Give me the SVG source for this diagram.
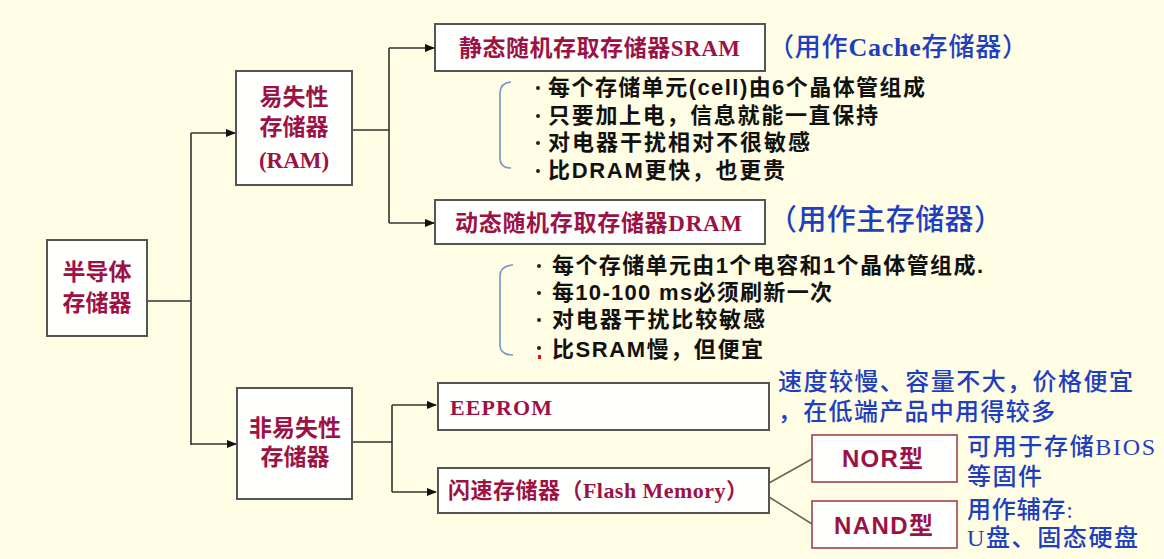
<svg xmlns="http://www.w3.org/2000/svg" width="1164" height="559" viewBox="0 0 1164 559">
<style>
.box{fill:#fffffe;stroke:#555;stroke-width:2}
.lbl{fill:#9c1245;font-family:"Liberation Serif","Noto Sans CJK SC",serif;font-weight:bold;dominant-baseline:central}
.lblc{text-anchor:middle}
.sans{font-family:"Liberation Sans","Noto Sans CJK SC",sans-serif}
.conn{fill:none;stroke:#333;stroke-width:1.6}
.thin{fill:none;stroke:#66664e;stroke-width:1.5}
.blue{fill:#1e3fbf;font-family:"Liberation Serif","Noto Sans CJK SC",serif;font-weight:500;dominant-baseline:central}
.bul{fill:#111;font-family:"Liberation Sans","Noto Sans CJK SC",sans-serif;font-weight:bold;font-size:22px;dominant-baseline:central}
.dot{fill:#222}
.brk{fill:none;stroke:#7892d2;stroke-width:1.6}
</style>
<defs>
<marker id="ah" markerWidth="10" markerHeight="8" refX="9" refY="4" orient="auto" markerUnits="userSpaceOnUse">
<path d="M0,0 L10,4 L0,8 Z" fill="#111"/>
</marker>
</defs>
<rect width="1164" height="559" fill="#fffde4"/>

<g id="connectors">
<path class="conn" d="M147,301 H191 M191,133 V445"/>
<path class="conn" d="M191,133 H235" marker-end="url(#ah)"/>
<path class="conn" d="M191,444 H236" marker-end="url(#ah)"/>
<path class="conn" d="M352,130 H389 M389,48 V223"/>
<path class="conn" d="M389,48 H434" marker-end="url(#ah)"/>
<path class="conn" d="M389,223 H434" marker-end="url(#ah)"/>
<path class="conn" d="M352,442 H392 M392,405 V492"/>
<path class="conn" d="M392,405 H436" marker-end="url(#ah)"/>
<path class="conn" d="M392,492 H436" marker-end="url(#ah)"/>
<path class="thin" d="M769,483 L812,459"/>
<path class="thin" d="M769,497 L812,524"/>
</g>

<g id="root">
<rect class="box" x="47" y="240" width="100" height="96"/>
<text class="lbl lblc" x="97" y="272" font-size="23">半导体</text>
<text class="lbl lblc" x="97" y="303" font-size="23">存储器</text>
</g>

<g id="ram">
<rect class="box" x="236" y="71" width="116" height="114"/>
<text class="lbl lblc" x="294" y="97" font-size="23">易失性</text>
<text class="lbl lblc" x="294" y="127" font-size="23">存储器</text>
<text class="lbl lblc" x="294" y="160" font-size="23">(RAM)</text>
</g>

<g id="rom">
<rect class="box" x="237" y="388" width="115" height="111"/>
<text class="lbl lblc" x="295" y="428" font-size="23">非易失性</text>
<text class="lbl lblc" x="295" y="457" font-size="23">存储器</text>
</g>

<g id="sram">
<rect class="box" x="435" y="24" width="330" height="47"/>
<text class="lbl" x="459" y="48" font-size="23" textLength="281">静态随机存取存储器SRAM</text>
<text class="blue" x="768" y="47" font-size="26" textLength="260">（用作<tspan font-weight="bold">Cache</tspan>存储器）</text>
<path class="brk" d="M511,82 Q500,83 500,93 L500,158 Q500,168 511,168"/>
<circle class="dot" cx="538" cy="88" r="2"/>
<text class="bul" x="548" y="87" textLength="377">每个存储单元(cell)由6个晶体管组成</text>
<circle class="dot" cx="538" cy="116" r="2"/>
<text class="bul" x="548" y="115" textLength="330">只要加上电，信息就能一直保持</text>
<circle class="dot" cx="538" cy="143" r="2"/>
<text class="bul" x="548" y="142" textLength="262">对电器干扰相对不很敏感</text>
<circle class="dot" cx="538" cy="171" r="2"/>
<text class="bul" x="548" y="170" textLength="237">比DRAM更快，也更贵</text>
</g>

<g id="dram">
<rect class="box" x="435" y="200" width="330" height="44"/>
<text class="lbl" x="455" y="223" font-size="23" textLength="287">动态随机存取存储器DRAM</text>
<text class="blue" x="768" y="220" font-size="29" textLength="235">（用作主存储器）</text>
<path class="brk" d="M513,265 Q500,266 500,276 L500,345 Q500,355 513,355"/>
<circle class="dot" cx="539" cy="266" r="2"/>
<text class="bul" x="552" y="265" textLength="431">每个存储单元由1个电容和1个晶体管组成.</text>
<circle class="dot" cx="539" cy="293" r="2"/>
<text class="bul" x="552" y="292" textLength="280">每10-100 ms必须刷新一次</text>
<circle class="dot" cx="539" cy="320" r="2"/>
<text class="bul" x="552" y="319" textLength="213">对电器干扰比较敏感</text>
<circle class="dot" cx="539" cy="348" r="2"/>
<rect x="538" y="355" width="3" height="4" fill="#e01010"/>
<text class="bul" x="552" y="349" textLength="211">比SRAM慢，但便宜</text>
</g>

<g id="eeprom">
<rect class="box" x="438" y="383" width="331" height="47"/>
<text class="lbl" x="450" y="407" font-size="22" textLength="102">EEPROM</text>
<text class="blue" x="778" y="382" font-size="24" textLength="355">速度较慢、容量不大，价格便宜</text>
<text class="blue" x="778" y="412" font-size="24" textLength="277">，在低端产品中用得较多</text>
</g>

<g id="flash">
<rect class="box" x="438" y="468" width="331" height="45"/>
<text class="lbl" x="448" y="490" font-size="22" textLength="300">闪速存储器（Flash Memory）</text>
</g>

<g id="nor">
<rect x="812" y="435" width="145" height="47" fill="#fffffe" stroke="#a04050" stroke-width="1.6"/>
<text class="lbl sans" x="842" y="458" font-size="24" textLength="81">NOR型</text>
<text class="blue" x="967" y="447" font-size="24" textLength="188">可用于存储BIOS</text>
<text class="blue" x="967" y="477" font-size="24" textLength="75">等固件</text>
</g>

<g id="nand">
<rect x="812" y="501" width="145" height="47" fill="#fffffe" stroke="#a04050" stroke-width="1.6"/>
<text class="lbl sans" x="834" y="525" font-size="24" textLength="99">NAND型</text>
<text class="blue" x="967" y="510" font-size="24" textLength="106">用作辅存:</text>
<text class="blue" x="967" y="538" font-size="24" textLength="171">U盘、固态硬盘</text>
</g>
</svg>
